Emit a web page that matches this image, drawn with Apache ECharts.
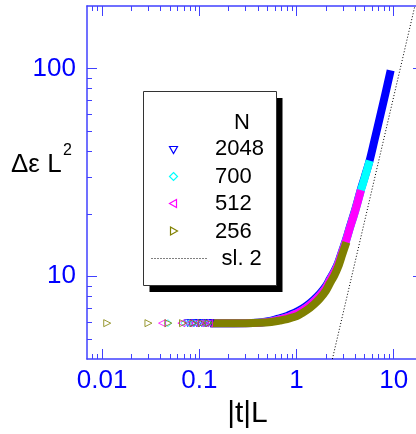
<!DOCTYPE html>
<html>
<head>
<meta charset="utf-8">
<script src="https://cdn.jsdelivr.net/npm/echarts@6/dist/echarts.min.js"></script>
<style>
html,body{margin:0;padding:0;background:#fff;}
#c{width:416px;height:434px;}
</style>
</head>
<body>
<div id="c"></div>
<script>
// ---- tick values / labels ----
const xTickVals = [0.01, 0.1, 1, 10];
const xTickLabels = ['0.01', '0.1', '1', '10'];
const xMinorVals = [0.008,0.009,0.02,0.03,0.04,0.05,0.06,0.07,0.08,0.09,0.2,0.3,0.4,0.5,0.6,0.7,0.8,0.9,2,3,4,5,6,7,8,9];
const yTickVals = [10, 100];
const yTickLabels = ['10', '100'];
const yMinorVals = [5,6,7,8,9,20,30,40,50,60,70,80,90];

// ---- N = 2048 (blue) ----
const xBlueBand = [0.13,0.2,0.3,0.42,0.55,0.67,0.8,0.92,1.05,1.27,1.5,1.74,2.0,2.2,2.45,2.68,2.95,3.26,3.5,4.0,4.6,5.0,5.66,6.3,7.18,8.2,9.3];
const yBlueBand = [5.95,5.95,5.96,6.0,6.12,6.28,6.45,6.63,6.82,7.22,7.7,8.25,8.95,9.7,10.6,11.6,13.25,15.2,17.0,20.8,26.3,29.8,36.2,44.6,57.9,75.6,98];
const xBluePts = [0.076,0.082,0.088,0.094,0.10,0.106,0.112,0.118,0.124,0.13];
const yBluePts = [5.95,5.95,5.95,5.95,5.95,5.95,5.95,5.95,5.95,5.95];

// ---- N = 700 (cyan) ----
const xCyanBand = [0.13,0.2,0.3,0.42,0.55,0.67,0.8,0.92,1.05,1.27,1.5,1.74,2.0,2.2,2.45,2.68,2.95,3.26,3.5,4.0,4.6,5.0,5.66];
const yCyanBand = [5.95,5.95,5.95,5.98,6.07,6.2,6.35,6.52,6.7,7.08,7.55,8.1,8.8,9.55,10.45,11.45,13.1,15.0,16.8,20.5,26.0,29.5,36.0];
const xCyanPts = [0.0476,0.0705,0.079,0.088,0.097,0.106,0.115,0.124];
const yCyanPts = [5.95,5.95,5.95,5.95,5.95,5.95,5.95,5.95];

// ---- N = 512 (magenta) ----
const xMagBand = [0.13,0.2,0.3,0.42,0.55,0.67,0.8,0.92,1.05,1.27,1.5,1.74,2.0,2.2,2.45,2.68,2.95,3.26,3.5,4.0,4.6];
const yMagBand = [5.95,5.95,5.95,5.98,6.07,6.2,6.35,6.52,6.7,7.08,7.55,8.1,8.8,9.55,10.45,11.45,13.1,15.0,16.8,20.5,26.0];
const xMagPts = [0.0414,0.0654,0.078,0.09,0.102,0.114,0.126];
const yMagPts = [5.95,5.95,5.95,5.95,5.95,5.95,5.95];

// ---- N = 256 (olive) ----
const xOliveBand = [0.13,0.2,0.3,0.42,0.55,0.67,0.8,0.92,1.05,1.27,1.5,1.74,2.0,2.2,2.45,2.68,2.95,3.26];
const yOliveBand = [5.95,5.95,5.95,5.97,6.03,6.12,6.22,6.35,6.5,6.86,7.3,7.82,8.5,9.23,10.1,11.1,12.7,14.6];
const xOlivePts = [0.0113,0.030,0.048,0.068,0.087,0.106,0.125];
const yOlivePts = [5.95,5.95,5.95,5.95,5.95,5.95,5.95];

// ---- slope 2 guide ----
const xSlope = [2.34, 16.5];
const ySlope = [4, 200];

const legendNames = ['2048', '700', '512', '256'];

const C = { blue:'#0000ff', cyan:'#00ffff', mag:'#ff00ff', olive:'#808000' };
const AX = '#4040ff';
const FONT = '"Liberation Sans", Arial, sans-serif';

const zip = (xs, ys) => xs.map((x, i) => [x, ys[i]]);
const fmt = (vals, labels) => (v) => {
  for (let i = 0; i < vals.length; i++) if (Math.abs(Math.log10(v) - Math.log10(vals[i])) < 1e-6) return labels[i];
  return '';
};

function xAx(pos, major) {
  return {
    type: 'log', logBase: 10, min: 0.007, max: 20, position: pos, gridIndex: 0,
    axisLine: { show: major, onZero: false, lineStyle: { color: AX, width: 1.5 } },
    axisTick: { show: true, inside: true, length: major ? 10 : 5, customValues: major ? xTickVals : xMinorVals, lineStyle: { color: AX, width: 1 } },
    axisLabel: { show: major && pos === 'bottom', customValues: xTickVals, formatter: fmt(xTickVals, xTickLabels), color: '#0000ff', fontSize: 26, fontFamily: FONT, margin: 9 },
    splitLine: { show: false }, minorTick: { show: false }
  };
}
function yAx(pos, major) {
  return {
    type: 'log', logBase: 10, min: 4, max: 200, position: pos, gridIndex: 0,
    axisLine: { show: major, onZero: false, lineStyle: { color: AX, width: 1.5 } },
    axisTick: { show: true, inside: true, length: major ? 10 : 5, customValues: major ? yTickVals : yMinorVals, lineStyle: { color: AX, width: 1 } },
    axisLabel: { show: major && pos === 'left', customValues: yTickVals, formatter: fmt(yTickVals, yTickLabels), color: '#0000ff', fontSize: 26, fontFamily: FONT, margin: 11 },
    splitLine: { show: false }, minorTick: { show: false }
  };
}

function band(name, xs, ys, color, z) {
  return { type: 'line', name, data: zip(xs, ys), showSymbol: false, smooth: 0.3, z,
    lineStyle: { color, width: 8, cap: 'butt', join: 'round' }, silent: true, animation: false };
}
function pts(name, xs, ys, color, symbol, rot, z) {
  return { type: 'scatter', name, data: zip(xs, ys), symbol, symbolRotate: rot, symbolSize: 7, z,
    itemStyle: { color: 'rgba(0,0,0,0)', borderColor: color, borderWidth: 1 }, animation: false };
}

// legend icon helper
function tri(cx, cy, dir, color) {
  const s = 4;
  let p;
  if (dir === 'down') p = [[cx - s, cy - s + 1], [cx + s, cy - s + 1], [cx, cy + s]];
  else if (dir === 'left') p = [[cx + s - 1, cy - s], [cx + s - 1, cy + s], [cx - s, cy]];
  else p = [[cx - s + 1, cy - s], [cx - s + 1, cy + s], [cx + s, cy]];
  return { type: 'polygon', shape: { points: p }, style: { fill: 'none', stroke: color, lineWidth: 1.2 }, z: 102 };
}
function legText(txt, x, y, align) {
  return { type: 'text', x, y, z: 102, style: { text: txt, font: '22px ' + FONT, fill: '#000', align: align || 'left', verticalAlign: 'middle' } };
}

const chart = echarts.init(document.getElementById('c'), null, { renderer: 'canvas' });
chart.setOption({
  animation: false,
  backgroundColor: '#fff',
  grid: { left: 87, top: 6, width: 336, height: 353, containLabel: false, outerBoundsMode: 'none' },
  xAxis: [xAx('bottom', true), xAx('bottom', false), xAx('top', true), xAx('top', false)],
  yAxis: [yAx('left', true), yAx('left', false), yAx('right', true), yAx('right', false)],
  series: [
    { type: 'line', name: 'sl. 2', data: zip(xSlope, ySlope), showSymbol: false, z: 1,
      lineStyle: { color: '#000', width: 1, type: [1, 2] }, animation: false },
    band(legendNames[0], xBlueBand, yBlueBand, C.blue, 2),
    band(legendNames[1], xCyanBand, yCyanBand, C.cyan, 3),
    band(legendNames[2], xMagBand, yMagBand, C.mag, 4),
    band(legendNames[3], xOliveBand, yOliveBand, C.olive, 5),
    pts(legendNames[0], xBluePts, yBluePts, C.blue, 'triangle', 180, 6),
    pts(legendNames[1], xCyanPts, yCyanPts, C.cyan, 'diamond', 0, 7),
    pts(legendNames[2], xMagPts, yMagPts, C.mag, 'triangle', 90, 8),
    pts(legendNames[3], xOlivePts, yOlivePts, C.olive, 'triangle', -90, 9)
  ],
  graphic: [
    { type: 'text', x: 247.5, y: 414, style: { text: '|t|L', font: '30px ' + FONT, fill: '#000', align: 'center', verticalAlign: 'middle' } },
    { type: 'text', x: 11, y: 165, style: { text: 'Δε L', font: '26px ' + FONT, fill: '#000', align: 'left', verticalAlign: 'middle' } },
    { type: 'text', x: 63, y: 151, style: { text: '2', font: '16px ' + FONT, fill: '#000', align: 'left', verticalAlign: 'middle' } },
    { type: 'rect', shape: { x: 149.5, y: 98, width: 133, height: 194 }, style: { fill: '#000' }, z: 100 },
    { type: 'rect', shape: { x: 143.5, y: 91.5, width: 133, height: 194 }, style: { fill: '#fff', stroke: '#333', lineWidth: 1 }, z: 101 },
    legText('N', 242, 123, 'center'),
    tri(173.5, 149.5, 'down', C.blue),
    legText(legendNames[0], 215, 149),
    { type: 'polygon', shape: { points: [[173.5, 172.5], [177.5, 176.5], [173.5, 180.5], [169.5, 176.5]] }, style: { fill: 'none', stroke: C.cyan, lineWidth: 1.2 }, z: 102 },
    legText(legendNames[1], 215, 176.5),
    tri(173.5, 203.5, 'left', C.mag),
    legText(legendNames[2], 215, 203.5),
    tri(173.5, 231, 'right', C.olive),
    legText(legendNames[3], 215, 231.5),
    { type: 'line', shape: { x1: 151.5, y1: 258.5, x2: 206.5, y2: 258.5 }, style: { stroke: '#000', lineWidth: 1, lineDash: [1, 2] }, z: 102 },
    legText('sl. 2', 221.5, 259)
  ]
});
</script>
</body>
</html>
